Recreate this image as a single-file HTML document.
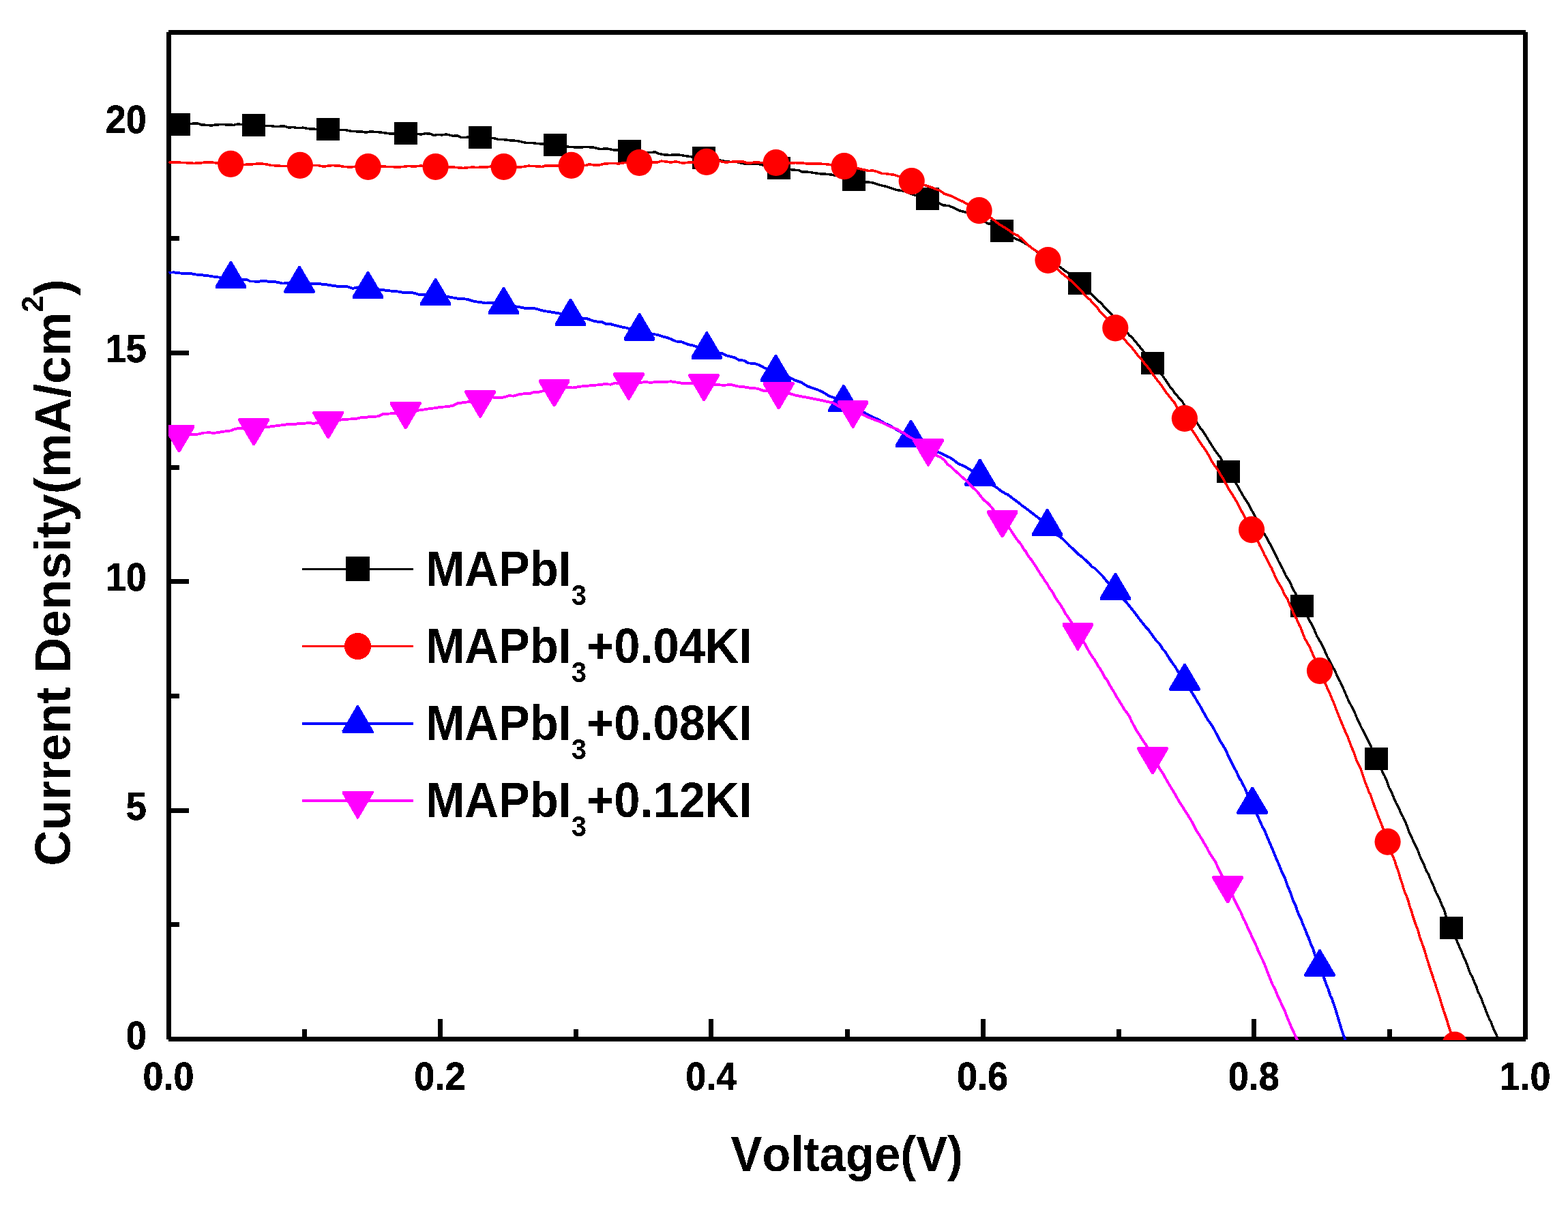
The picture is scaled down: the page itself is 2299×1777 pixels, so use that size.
<!DOCTYPE html>
<html lang="en"><head><meta charset="utf-8"><title>J-V curves: MAPbI3 with KI additive</title>
<style>
html,body{margin:0;padding:0;background:#fff;}
body{width:2299px;height:1777px;}
svg{display:block;}
text{font-family:"Liberation Sans",sans-serif;font-weight:bold;fill:#000;font-kerning:none;}
.tick{font-size:56.8px;stroke:#000;stroke-width:0.7px;stroke-linejoin:round;}
.title{font-size:72px;}
.ytitle{font-size:74.5px;}
.leg{font-size:72px;}
</style></head><body>
<svg width="2299" height="1777" viewBox="0 0 2299 1777">
<rect x="0" y="0" width="2299" height="1777" fill="#fff"/>
<defs><clipPath id="c"><rect x="247" y="46" width="1991" height="1479"/></clipPath>
<filter id="bin" x="-5%" y="-25%" width="110%" height="150%" color-interpolation-filters="sRGB"><feComponentTransfer><feFuncA type="discrete" tableValues="0 1"/></feComponentTransfer></filter>
</defs>
<g id="axes" shape-rendering="crispEdges" fill="#000">
<rect x="247" y="44" width="1990" height="7"/>
<rect x="247" y="1520" width="1990" height="7"/>
<rect x="244" y="47" width="7" height="1477"/>
<rect x="2233" y="47" width="7" height="1477"/>
<rect x="443" y="1509" width="7" height="12"/>
<rect x="642" y="1494" width="7" height="27"/>
<rect x="841" y="1509" width="7" height="12"/>
<rect x="1039" y="1494" width="7" height="27"/>
<rect x="1239" y="1509" width="7" height="12"/>
<rect x="1438" y="1494" width="7" height="27"/>
<rect x="1637" y="1509" width="7" height="12"/>
<rect x="1835" y="1494" width="7" height="27"/>
<rect x="2034" y="1509" width="7" height="12"/>
<rect x="250" y="1352" width="13" height="7"/>
<rect x="250" y="1185" width="27" height="7"/>
<rect x="250" y="1017" width="13" height="7"/>
<rect x="250" y="849" width="27" height="7"/>
<rect x="250" y="682" width="13" height="7"/>
<rect x="250" y="514" width="27" height="7"/>
<rect x="250" y="346" width="13" height="7"/>
<rect x="250" y="179" width="27" height="7"/>
</g>
<g id="data" clip-path="url(#c)" fill="none" stroke-linejoin="round" shape-rendering="crispEdges">
<path d="M247.5 181.9L254.8 180.9L264.4 182.0L271.5 181.0L277.2 181.7L284.4 181.1L289.3 180.8L295.3 183.0L303.9 183.4L309.4 184.1L317.2 182.8L325.2 182.7L333.3 182.8L337.9 183.0L342.5 183.4L349.3 181.7L357.1 183.2L365.7 182.2L372.9 183.1L378.9 185.5L387.9 184.7L396.9 184.5L402.9 185.4L407.9 185.4L416.8 184.9L423.8 187.3L428.8 186.4L434.8 187.5L444.8 187.2L451.8 188.7L460.9 189.2L467.0 189.6L477.1 190.0L486.1 190.4L491.1 190.7L496.1 190.7L504.1 190.4L511.2 191.4L516.2 192.6L524.3 192.8L530.4 193.0L536.5 194.1L542.6 193.0L552.8 193.5L561.9 194.5L570.0 195.8L576.0 196.1L582.0 195.4L588.0 194.6L592.9 196.0L599.0 196.4L607.1 195.7L617.2 197.1L624.3 195.7L630.3 196.1L636.3 198.4L642.3 197.4L648.3 197.9L654.3 196.8L664.2 199.3L671.2 198.8L676.2 201.6L682.2 201.3L691.2 201.1L699.2 203.0L705.2 203.0L710.2 203.8L716.2 201.9L724.2 202.7L730.2 204.3L735.2 204.4L741.2 204.9L747.2 205.8L754.2 206.2L761.2 207.0L771.3 209.5L780.3 209.6L788.3 210.5L793.3 211.0L803.2 211.2L808.2 210.5L816.2 211.2L822.2 213.0L832.2 215.1L841.2 215.8L851.2 216.0L860.1 215.4L870.1 216.2L880.0 218.6L890.0 217.8L900.0 219.9L907.9 219.8L915.9 220.2L923.9 222.3L933.9 223.3L943.9 223.5L952.9 223.4L960.9 223.1L965.9 225.2L974.9 227.1L981.9 227.3L988.0 227.2L996.0 227.1L1006.0 228.7L1012.0 229.6L1020.0 230.6L1030.1 232.1L1038.1 231.1L1045.1 233.4L1053.0 234.6L1062.0 236.3L1072.0 237.5L1080.0 237.4L1086.0 239.0L1095.0 240.6L1104.0 240.7L1110.0 239.9L1115.9 241.3L1121.9 243.1L1128.9 243.6L1134.9 244.3L1143.9 247.0L1148.9 247.3L1153.9 248.1L1162.9 249.0L1170.8 249.6L1175.8 252.0L1180.8 251.8L1189.8 252.9L1195.8 253.8L1203.8 255.1L1210.7 255.2L1219.7 256.2L1229.7 258.4L1236.6 259.5L1242.6 262.0L1251.5 263.4L1257.3 264.3L1266.1 266.9L1273.8 267.1L1280.6 268.2L1289.3 271.2L1299.0 273.4L1307.7 276.3L1315.4 278.7L1325.1 280.0L1334.8 283.8L1343.5 286.9L1351.3 288.4L1357.1 290.1L1364.6 291.4L1372.9 295.7L1382.1 300.7L1391.3 301.7L1397.7 304.4L1406.9 308.9L1411.5 310.0L1417.9 311.7L1424.4 315.1L1429.0 317.8L1437.3 321.5L1442.9 323.7L1447.5 327.7L1452.2 328.2L1460.6 333.0L1468.2 338.3L1477.3 342.6L1481.4 345.2L1487.2 349.3L1494.7 352.4L1503.0 356.8L1509.7 361.1L1518.1 367.5L1526.6 373.0L1535.0 379.8L1540.8 382.2L1547.5 386.7L1553.4 390.9L1561.7 397.3L1567.4 400.8L1573.2 407.1L1578.9 411.5L1585.0 416.6L1589.9 422.9L1594.7 425.8L1600.2 431.5L1607.0 438.3L1613.7 443.9L1617.8 448.4L1623.2 454.4L1629.2 460.4L1632.5 464.3L1638.6 471.4L1642.6 474.8L1645.9 479.8L1651.9 487.0L1656.0 491.7L1660.0 495.0L1664.7 500.8L1669.4 506.3L1672.8 510.7L1678.2 517.0L1684.4 524.4L1689.2 531.4L1694.4 537.6L1700.1 545.8L1704.1 550.3L1709.9 558.5L1715.6 567.4L1719.1 571.0L1722.6 576.5L1725.5 579.8L1730.7 585.6L1733.6 588.8L1736.5 594.3L1740.0 598.2L1745.8 605.3L1748.7 609.4L1752.8 616.4L1757.4 623.6L1760.3 628.2L1763.2 631.4L1767.9 638.6L1770.8 643.5L1776.0 651.9L1781.7 660.7L1784.6 664.7L1789.8 671.4L1793.2 678.0L1797.2 683.7L1801.2 690.6L1803.6 694.4L1806.5 698.1L1810.4 705.6L1813.3 710.1L1816.2 715.5L1821.0 724.1L1825.8 732.1L1829.7 737.6L1833.0 743.9L1837.8 752.8L1842.1 761.1L1846.4 771.0L1850.7 778.2L1855.5 785.6L1860.2 794.3L1864.5 801.5L1867.8 808.7L1870.7 814.2L1874.0 821.6L1877.9 828.6L1881.7 835.9L1885.5 844.7L1888.4 848.6L1891.7 854.1L1895.1 862.3L1898.9 869.2L1903.2 877.5L1907.1 884.8L1911.2 892.7L1913.4 897.8L1916.0 902.1L1918.6 907.5L1923.0 915.0L1927.3 923.9L1930.8 932.4L1934.8 939.6L1937.0 942.7L1939.2 947.0L1943.6 957.0L1946.2 963.0L1949.7 969.4L1954.1 978.1L1957.2 983.4L1960.2 990.3L1962.9 995.5L1965.5 1000.5L1969.5 1009.4L1972.1 1015.3L1974.3 1020.6L1977.4 1027.6L1981.8 1035.9L1986.2 1044.5L1990.6 1055.4L1993.7 1061.7L1996.7 1067.9L1999.8 1073.7L2004.2 1082.7L2008.6 1091.2L2012.6 1100.0L2016.1 1107.7L2019.1 1114.6L2022.4 1121.9L2024.4 1125.2L2027.3 1132.6L2029.9 1137.3L2033.6 1145.6L2037.0 1155.5L2040.9 1162.8L2043.4 1169.4L2047.3 1178.1L2050.7 1184.3L2054.2 1192.4L2057.2 1197.9L2060.7 1205.5L2062.8 1210.9L2066.7 1221.7L2070.6 1229.6L2073.1 1234.9L2076.1 1241.1L2079.1 1247.7L2081.2 1253.7L2084.1 1260.4L2087.4 1266.8L2089.9 1273.3L2092.4 1278.5L2094.4 1281.5L2096.5 1287.5L2100.1 1294.8L2102.4 1300.4L2105.9 1309.4L2108.6 1314.2L2111.3 1319.9L2114.3 1327.9L2117.2 1333.5L2119.7 1341.8L2121.8 1347.1L2123.9 1350.3L2127.2 1358.0L2129.9 1364.5L2132.4 1370.1L2135.9 1379.0L2139.3 1387.1L2142.7 1394.7L2145.6 1401.8L2148.9 1409.1L2152.1 1417.2L2155.3 1426.3L2159.3 1433.8L2161.9 1440.5L2164.5 1445.9L2167.0 1453.9L2169.4 1458.2L2172.2 1464.6L2174.8 1472.0L2177.4 1478.4L2180.9 1487.5L2183.9 1494.6L2186.1 1498.4L2189.5 1507.7L2191.4 1511.6L2194.3 1517.8L2199.9 1531.6L2200.3 1532.9L2199.0 1530.0" stroke="#000" stroke-width="3.5"/>
<rect x="245.0" y="165.5" width="34" height="33" fill="#000"/>
<rect x="354.9" y="167.0" width="34" height="33" fill="#000"/>
<rect x="464.2" y="173.0" width="34" height="33" fill="#000"/>
<rect x="577.9" y="178.9" width="34" height="33" fill="#000"/>
<rect x="687.2" y="185.3" width="34" height="33" fill="#000"/>
<rect x="797.2" y="196.3" width="34" height="33" fill="#000"/>
<rect x="905.9" y="205.0" width="34" height="33" fill="#000"/>
<rect x="1015.1" y="215.3" width="34" height="33" fill="#000"/>
<rect x="1124.9" y="229.7" width="34" height="33" fill="#000"/>
<rect x="1234.5" y="246.6" width="34" height="33" fill="#000"/>
<rect x="1343.0" y="274.8" width="34" height="33" fill="#000"/>
<rect x="1452.1" y="321.6" width="34" height="33" fill="#000"/>
<rect x="1565.9" y="398.5" width="34" height="33" fill="#000"/>
<rect x="1672.9" y="515.8" width="34" height="33" fill="#000"/>
<rect x="1784.2" y="674.5" width="34" height="33" fill="#000"/>
<rect x="1892.0" y="872.0" width="34" height="33" fill="#000"/>
<rect x="2001.3" y="1096.4" width="34" height="33" fill="#000"/>
<rect x="2110.9" y="1343.5" width="34" height="33" fill="#000"/>
<path d="M247.5 237.7L255.0 238.3L259.7 238.1L269.6 238.5L277.8 239.0L284.3 239.4L294.5 238.9L301.4 237.8L309.7 237.9L319.1 239.2L328.3 239.6L336.0 239.9L345.9 240.8L353.7 242.1L363.6 240.8L371.7 240.7L377.8 240.0L388.0 240.4L398.2 242.5L406.4 243.0L414.6 243.5L420.7 243.5L425.8 242.9L435.9 241.6L443.0 242.2L451.1 243.1L458.2 242.6L466.3 242.6L474.4 244.1L481.4 243.2L486.5 242.6L496.5 242.9L503.6 244.3L513.6 245.1L520.6 244.3L525.7 244.7L533.7 244.3L540.7 244.1L546.8 245.1L551.8 243.4L559.9 243.9L566.0 244.3L573.0 244.3L582.1 245.3L591.2 244.4L598.2 243.5L608.3 244.0L617.4 243.1L625.4 244.2L632.5 244.7L640.6 243.1L650.6 245.0L658.5 244.8L665.5 245.2L672.6 245.9L678.6 246.4L685.6 245.8L690.6 245.2L700.6 245.4L706.6 244.9L713.6 245.1L719.6 244.1L729.6 245.5L738.6 245.6L747.6 245.0L752.7 244.8L759.7 245.3L768.7 244.3L774.7 243.2L780.7 243.5L788.7 243.9L794.7 244.5L799.7 243.0L806.7 242.9L813.7 242.8L818.7 242.9L826.7 242.6L836.7 242.7L844.7 241.8L849.8 241.0L858.8 242.6L863.9 240.9L869.9 241.8L879.0 241.8L886.1 240.2L895.2 239.4L901.2 239.5L907.3 240.0L916.3 238.5L925.4 239.1L932.4 238.7L942.4 238.4L950.5 237.4L956.5 237.9L963.5 238.1L969.5 236.1L975.5 236.9L983.5 238.0L991.5 236.9L1000.5 239.1L1009.6 238.2L1018.6 237.8L1023.7 237.2L1029.8 235.5L1039.9 236.6L1046.9 236.1L1053.9 236.0L1063.9 238.1L1074.0 237.2L1083.2 237.0L1089.2 236.8L1095.3 239.0L1101.4 238.8L1106.5 238.0L1113.6 238.3L1119.6 238.6L1126.7 239.2L1133.7 239.0L1141.7 238.2L1151.8 239.5L1156.8 239.0L1166.9 238.7L1171.9 239.1L1177.9 239.2L1182.9 240.0L1192.9 240.3L1199.9 240.1L1208.8 240.5L1215.8 241.2L1222.8 242.8L1229.7 242.5L1237.7 244.8L1246.6 245.7L1255.4 246.2L1260.3 247.6L1265.2 248.6L1274.0 250.5L1279.9 250.0L1287.8 252.3L1292.7 254.4L1298.5 254.6L1304.4 255.5L1311.2 256.3L1318.1 258.8L1324.9 261.4L1334.7 263.4L1340.4 265.8L1349.6 269.7L1357.0 271.9L1365.3 274.5L1370.8 276.9L1378.2 279.5L1384.6 284.1L1393.9 287.1L1400.3 290.0L1405.0 292.4L1412.4 295.9L1417.9 299.0L1425.4 302.5L1432.8 307.0L1438.8 311.0L1446.1 315.1L1451.8 318.6L1459.9 324.8L1466.4 329.7L1471.3 332.5L1477.1 336.1L1482.0 339.8L1486.9 343.0L1492.6 345.5L1499.1 351.3L1504.0 355.7L1508.1 359.9L1512.2 363.1L1517.9 367.2L1525.2 371.9L1530.9 376.1L1537.2 382.1L1542.2 387.9L1545.7 389.5L1550.0 394.2L1557.1 400.9L1564.1 406.3L1570.4 411.8L1577.4 418.8L1584.5 425.2L1588.0 429.5L1593.6 435.7L1597.8 439.1L1603.4 445.4L1607.6 449.5L1613.3 457.3L1617.5 461.5L1623.9 467.6L1627.4 471.9L1631.0 475.8L1637.1 484.2L1642.5 489.3L1648.0 496.8L1652.2 501.9L1655.9 506.0L1659.5 509.7L1665.6 517.3L1669.3 522.8L1672.3 525.1L1678.5 533.5L1684.6 540.3L1688.9 546.9L1692.6 551.7L1698.1 559.1L1702.4 564.4L1705.4 568.8L1709.7 575.4L1712.7 578.8L1718.2 586.0L1722.5 591.1L1726.1 597.8L1729.7 603.5L1733.3 608.8L1738.5 615.3L1742.1 622.1L1744.8 625.2L1750.0 633.9L1753.1 638.3L1756.2 643.3L1761.9 652.3L1764.5 655.6L1768.6 661.8L1772.2 667.6L1776.9 676.5L1781.5 683.3L1786.1 689.7L1790.2 697.1L1792.8 701.0L1795.9 706.5L1798.4 711.2L1802.5 718.5L1805.6 722.8L1808.7 728.4L1811.3 732.3L1815.4 739.7L1819.0 746.7L1822.1 752.6L1826.8 761.0L1830.4 768.1L1835.1 777.1L1838.6 783.5L1842.9 791.0L1847.2 799.9L1849.8 804.4L1854.2 814.0L1858.5 821.6L1861.6 828.1L1864.2 832.7L1868.6 842.7L1871.2 848.3L1875.6 856.6L1879.5 862.7L1883.4 871.9L1887.4 877.8L1891.3 887.3L1893.9 892.8L1897.0 899.8L1900.9 907.2L1904.9 916.3L1907.1 920.6L1910.1 928.4L1913.6 937.1L1916.7 942.3L1920.2 948.3L1923.7 956.6L1927.2 964.6L1930.6 973.7L1933.3 980.6L1937.2 988.3L1940.6 995.5L1942.4 1000.0L1945.8 1008.2L1949.1 1014.9L1951.0 1019.9L1953.5 1025.9L1957.3 1034.5L1959.1 1040.1L1961.3 1045.5L1964.3 1053.1L1966.2 1057.5L1969.5 1065.4L1973.2 1074.3L1975.4 1078.7L1978.8 1087.8L1981.7 1095.5L1985.4 1104.0L1988.0 1112.4L1991.7 1120.8L1995.5 1128.4L1998.8 1138.3L2001.7 1147.0L2004.7 1154.3L2006.9 1160.8L2009.1 1164.5L2012.1 1173.4L2014.3 1179.3L2016.9 1186.8L2019.1 1192.0L2021.3 1198.5L2024.3 1205.3L2027.6 1213.9L2030.5 1223.2L2033.1 1230.8L2036.2 1238.5L2038.8 1245.8L2041.4 1253.6L2043.5 1258.4L2045.2 1262.5L2046.9 1268.5L2049.3 1275.1L2051.4 1281.4L2053.2 1287.9L2056.4 1297.2L2058.6 1305.0L2061.1 1311.4L2063.3 1316.3L2065.5 1323.1L2067.3 1330.2L2069.5 1335.8L2071.7 1343.6L2074.7 1352.7L2076.9 1358.4L2079.1 1363.9L2081.6 1373.8L2083.4 1378.6L2085.9 1385.4L2088.8 1393.7L2092.0 1404.9L2094.4 1412.3L2095.8 1417.0L2097.8 1423.1L2100.2 1429.9L2102.5 1437.6L2104.5 1442.4L2106.4 1449.2L2108.6 1455.6L2111.3 1464.0L2114.3 1474.3L2116.5 1481.2L2118.2 1486.1L2121.1 1494.6L2123.3 1502.2L2125.7 1509.4L2127.9 1516.5L2129.5 1521.1L2132.0 1528.7L2133.0 1532.2" stroke="#f00" stroke-width="3.6"/>
<ellipse cx="338.2" cy="240.3" rx="19.1" ry="19.6" fill="#f00" shape-rendering="geometricPrecision"/>
<ellipse cx="439.9" cy="242.4" rx="19.1" ry="19.6" fill="#f00" shape-rendering="geometricPrecision"/>
<ellipse cx="539.7" cy="244.5" rx="19.1" ry="19.6" fill="#f00" shape-rendering="geometricPrecision"/>
<ellipse cx="638.6" cy="244.5" rx="19.1" ry="19.6" fill="#f00" shape-rendering="geometricPrecision"/>
<ellipse cx="738.6" cy="244.5" rx="19.1" ry="19.6" fill="#f00" shape-rendering="geometricPrecision"/>
<ellipse cx="837.7" cy="242.4" rx="19.1" ry="19.6" fill="#f00" shape-rendering="geometricPrecision"/>
<ellipse cx="937.4" cy="238.5" rx="19.1" ry="19.6" fill="#f00" shape-rendering="geometricPrecision"/>
<ellipse cx="1035.9" cy="237.3" rx="19.1" ry="19.6" fill="#f00" shape-rendering="geometricPrecision"/>
<ellipse cx="1137.7" cy="238.5" rx="19.1" ry="19.6" fill="#f00" shape-rendering="geometricPrecision"/>
<ellipse cx="1237.7" cy="243.7" rx="19.1" ry="19.6" fill="#f00" shape-rendering="geometricPrecision"/>
<ellipse cx="1336.7" cy="265.6" rx="19.1" ry="19.6" fill="#f00" shape-rendering="geometricPrecision"/>
<ellipse cx="1435.6" cy="308.7" rx="19.1" ry="19.6" fill="#f00" shape-rendering="geometricPrecision"/>
<ellipse cx="1536.5" cy="381.5" rx="19.1" ry="19.6" fill="#f00" shape-rendering="geometricPrecision"/>
<ellipse cx="1635.3" cy="480.8" rx="19.1" ry="19.6" fill="#f00" shape-rendering="geometricPrecision"/>
<ellipse cx="1736.9" cy="613.5" rx="19.1" ry="19.6" fill="#f00" shape-rendering="geometricPrecision"/>
<ellipse cx="1835.1" cy="776.7" rx="19.1" ry="19.6" fill="#f00" shape-rendering="geometricPrecision"/>
<ellipse cx="1935.0" cy="983.5" rx="19.1" ry="19.6" fill="#f00" shape-rendering="geometricPrecision"/>
<ellipse cx="2034.6" cy="1234.2" rx="19.1" ry="19.6" fill="#f00" shape-rendering="geometricPrecision"/>
<ellipse cx="2133.0" cy="1532.2" rx="19.1" ry="19.6" fill="#f00" shape-rendering="geometricPrecision"/>
<path d="M247.5 399.7L254.9 399.4L263.9 400.5L270.4 400.8L280.7 401.3L286.2 402.4L294.1 403.1L304.5 404.2L315.0 405.9L323.1 406.8L330.9 408.5L336.4 407.6L343.3 407.9L353.1 410.3L362.0 410.1L367.0 412.5L373.0 412.5L379.0 413.1L384.1 411.6L390.2 412.2L395.3 413.2L402.4 413.0L408.6 414.1L413.7 415.5L422.8 415.3L430.9 415.6L436.0 415.8L442.0 416.5L448.1 416.7L454.1 416.3L461.1 416.3L468.2 416.0L474.2 417.2L479.3 417.4L488.3 418.9L493.4 419.6L501.4 420.1L508.4 420.1L517.5 422.9L523.5 421.4L528.5 422.3L533.5 421.9L540.5 422.4L547.6 423.2L557.6 424.8L567.6 425.9L574.6 426.8L583.6 427.5L589.6 428.6L598.6 428.9L606.6 429.5L615.6 432.4L622.6 432.0L631.6 434.4L640.6 433.7L648.6 433.2L656.6 435.1L665.6 436.7L671.6 437.9L679.6 438.2L685.6 438.9L695.6 442.1L704.6 443.1L712.6 444.5L717.6 444.0L727.6 443.6L736.5 446.7L741.5 447.3L750.4 448.5L759.4 449.8L766.3 451.3L775.1 452.4L785.0 452.4L793.8 455.0L798.7 456.1L808.6 457.6L813.6 458.4L820.5 459.6L827.5 462.2L833.5 463.5L838.4 464.3L843.3 464.5L852.1 466.6L859.9 466.9L865.8 469.0L870.7 470.7L877.6 472.1L883.5 472.4L888.5 475.1L895.4 475.2L904.3 477.6L910.2 479.1L920.0 481.0L926.9 483.9L934.7 485.9L944.4 486.4L949.3 488.9L955.1 489.9L963.8 490.7L970.6 493.2L978.3 495.0L984.1 497.2L990.8 500.4L999.5 501.4L1009.1 505.2L1016.8 506.7L1026.5 510.4L1035.3 511.3L1040.1 513.2L1048.6 516.0L1053.3 517.7L1059.1 518.4L1064.8 521.1L1071.5 522.9L1076.3 523.9L1083.9 528.1L1091.6 528.7L1096.4 532.4L1106.0 532.8L1113.6 535.5L1122.2 540.1L1131.7 542.5L1137.4 545.2L1144.8 547.7L1151.3 550.6L1160.6 554.7L1166.1 557.7L1174.4 560.4L1183.6 566.1L1192.8 569.5L1199.3 571.6L1207.5 575.6L1215.8 580.6L1225.0 584.0L1229.6 586.4L1235.1 588.2L1243.1 592.3L1250.3 595.0L1256.5 597.8L1263.6 602.0L1268.0 605.4L1276.0 609.6L1283.9 613.5L1288.4 615.3L1297.2 620.7L1303.4 623.2L1308.8 626.5L1314.1 629.7L1321.2 633.7L1329.3 637.7L1338.2 642.2L1342.5 644.3L1347.7 647.9L1356.4 652.5L1361.7 654.9L1369.5 658.9L1374.8 662.6L1380.9 665.2L1388.0 668.9L1392.3 670.6L1397.6 674.1L1405.5 680.1L1411.6 682.6L1416.9 685.3L1422.1 688.4L1429.0 693.4L1436.8 699.4L1440.9 701.0L1446.5 704.3L1453.8 710.2L1461.0 714.6L1466.6 719.0L1473.8 723.6L1477.8 725.3L1485.8 731.5L1493.0 736.7L1499.4 742.0L1505.8 746.4L1513.0 752.0L1521.0 758.1L1528.2 764.0L1533.9 770.0L1541.3 775.7L1548.6 783.8L1555.1 787.6L1560.9 792.8L1568.2 800.5L1573.3 804.7L1580.5 812.1L1584.9 815.3L1590.7 820.5L1597.3 826.4L1601.0 831.1L1605.3 833.1L1610.5 838.3L1616.3 844.2L1621.4 850.7L1624.4 853.8L1630.3 860.6L1633.9 864.2L1639.6 872.0L1644.5 876.7L1650.5 881.9L1655.4 887.9L1659.7 893.1L1663.9 898.5L1670.0 906.8L1673.7 911.4L1677.4 916.0L1680.4 920.2L1683.5 922.9L1688.4 929.7L1694.5 938.3L1700.6 944.7L1704.9 951.9L1707.9 954.6L1713.4 963.8L1718.3 971.2L1723.1 977.6L1728.6 987.0L1734.0 993.5L1737.5 998.3L1740.4 1004.2L1743.8 1008.9L1746.7 1014.1L1751.1 1020.9L1755.9 1029.1L1761.3 1037.9L1763.7 1043.0L1766.6 1047.7L1770.4 1054.6L1775.2 1061.3L1780.0 1068.9L1783.9 1076.6L1788.7 1086.0L1793.0 1092.5L1797.3 1099.9L1800.7 1107.7L1805.5 1117.8L1809.8 1125.8L1813.2 1132.2L1817.5 1141.7L1819.9 1144.8L1822.3 1150.2L1825.2 1155.2L1829.5 1165.6L1833.8 1174.3L1837.4 1182.2L1840.5 1188.1L1844.8 1198.3L1848.9 1207.6L1851.3 1212.8L1853.8 1216.8L1858.0 1227.2L1862.2 1236.8L1866.0 1245.8L1869.3 1254.1L1872.3 1261.2L1875.3 1268.0L1878.6 1276.3L1881.2 1282.1L1884.1 1288.0L1887.8 1299.0L1889.5 1302.7L1893.2 1311.8L1896.0 1320.5L1899.6 1327.6L1901.6 1334.2L1904.3 1340.9L1907.8 1348.2L1911.2 1357.3L1913.8 1362.9L1917.0 1371.6L1918.7 1375.2L1921.8 1383.9L1925.4 1391.7L1928.5 1402.0L1930.9 1406.7L1933.9 1414.5L1935.6 1419.6L1937.4 1423.4L1939.1 1427.7L1942.4 1437.0L1944.9 1444.0L1947.3 1449.7L1950.8 1460.6L1952.8 1464.0L1954.3 1468.8L1956.1 1473.7L1957.8 1478.9L1960.6 1488.2L1963.8 1498.6L1966.1 1506.6L1969.0 1515.9L1970.7 1519.8L1974.0 1529.0L1975.6 1532.8L1974.5 1531.0" stroke="#00f" stroke-width="3.9"/>
<path d="M337.2 383.1L339.8 383.1L361.3 419.5L361.3 422.1L360.3 423.3L316.7 423.3L315.7 422.1L315.7 419.5Z" fill="#00f"/>
<path d="M437.7 390.0L440.3 390.0L461.8 426.4L461.8 429.0L460.8 430.2L417.2 430.2L416.2 429.0L416.2 426.4Z" fill="#00f"/>
<path d="M538.2 398.0L540.8 398.0L562.3 434.4L562.3 437.0L561.3 438.2L517.7 438.2L516.7 437.0L516.7 434.4Z" fill="#00f"/>
<path d="M637.3 408.2L639.9 408.2L661.4 444.6L661.4 447.2L660.4 448.4L616.8 448.4L615.8 447.2L615.8 444.6Z" fill="#00f"/>
<path d="M737.2 421.0L739.8 421.0L761.3 457.4L761.3 460.0L760.3 461.2L716.7 461.2L715.7 460.0L715.7 457.4Z" fill="#00f"/>
<path d="M835.2 437.9L837.8 437.9L859.3 474.3L859.3 476.9L858.3 478.1L814.7 478.1L813.7 476.9L813.7 474.3Z" fill="#00f"/>
<path d="M936.3 459.3L938.9 459.3L960.4 495.7L960.4 498.3L959.4 499.5L915.8 499.5L914.8 498.3L914.8 495.7Z" fill="#00f"/>
<path d="M1035.0 486.4L1037.6 486.4L1059.1 522.8L1059.1 525.4L1058.1 526.6L1014.5 526.6L1013.5 525.4L1013.5 522.8Z" fill="#00f"/>
<path d="M1136.1 520.0L1138.7 520.0L1160.2 556.4L1160.2 559.0L1159.2 560.2L1115.6 560.2L1114.6 559.0L1114.6 556.4Z" fill="#00f"/>
<path d="M1235.6 564.1L1238.2 564.1L1259.7 600.5L1259.7 603.1L1258.7 604.3L1215.1 604.3L1214.1 603.1L1214.1 600.5Z" fill="#00f"/>
<path d="M1334.3 615.9L1336.9 615.9L1358.4 652.3L1358.4 654.9L1357.4 656.1L1313.8 656.1L1312.8 654.9L1312.8 652.3Z" fill="#00f"/>
<path d="M1435.5 672.8L1438.1 672.8L1459.6 709.2L1459.6 711.8L1458.6 713.0L1415.0 713.0L1414.0 711.8L1414.0 709.2Z" fill="#00f"/>
<path d="M1534.2 746.2L1536.8 746.2L1558.3 782.6L1558.3 785.2L1557.3 786.4L1513.7 786.4L1512.7 785.2L1512.7 782.6Z" fill="#00f"/>
<path d="M1634.1 840.0L1636.7 840.0L1658.2 876.4L1658.2 879.0L1657.2 880.2L1613.6 880.2L1612.6 879.0L1612.6 876.4Z" fill="#00f"/>
<path d="M1735.7 972.9L1738.3 972.9L1759.8 1009.3L1759.8 1011.9L1758.8 1013.1L1715.2 1013.1L1714.2 1011.9L1714.2 1009.3Z" fill="#00f"/>
<path d="M1834.9 1153.6L1837.5 1153.6L1859.0 1190.0L1859.0 1192.6L1858.0 1193.8L1814.4 1193.8L1813.4 1192.6L1813.4 1190.0Z" fill="#00f"/>
<path d="M1933.7 1392.1L1936.3 1392.1L1957.8 1428.5L1957.8 1431.1L1956.8 1432.3L1913.2 1432.3L1912.2 1431.1L1912.2 1428.5Z" fill="#00f"/>
<path d="M247.5 636.5L255.7 637.3L265.0 637.9L270.5 637.3L276.1 637.0L280.4 637.0L290.8 636.5L299.0 634.5L307.6 634.4L314.3 634.8L322.2 633.7L327.9 632.7L338.3 631.4L344.0 629.1L348.5 628.3L355.2 627.6L360.6 628.5L367.0 628.2L375.1 627.7L384.1 626.6L393.1 625.9L402.0 624.7L411.0 623.6L418.9 622.5L424.9 622.1L431.9 622.4L438.9 620.6L447.9 620.6L453.9 620.0L459.9 620.9L468.0 619.4L476.1 619.0L482.2 617.7L487.1 616.1L495.0 617.0L499.9 615.6L507.9 614.7L512.9 614.5L521.9 614.1L529.9 612.1L535.9 612.4L540.9 610.9L549.0 610.9L555.0 610.2L561.0 607.3L571.0 606.5L578.9 606.0L588.8 603.7L595.7 602.7L601.8 602.2L609.8 602.1L619.9 600.8L629.8 599.1L637.8 598.3L645.7 596.8L655.7 596.3L664.6 594.6L670.5 591.3L676.4 590.6L685.3 589.4L691.2 588.7L698.2 589.0L704.1 588.8L710.1 585.9L716.1 584.5L722.1 582.5L727.0 582.9L737.0 582.8L745.9 580.3L752.9 580.6L761.8 578.1L768.8 577.2L777.7 576.9L782.7 574.9L788.7 575.0L793.7 573.7L798.6 572.9L805.6 570.7L811.6 570.6L816.6 571.3L824.6 569.2L833.6 567.9L839.6 568.5L847.6 567.2L856.6 565.9L861.6 565.7L869.7 564.8L878.7 564.3L885.7 563.2L895.7 563.6L901.8 561.5L907.8 561.9L914.9 562.0L923.9 561.0L929.9 560.4L936.9 561.2L945.9 560.1L954.9 560.9L961.9 559.9L969.0 560.4L975.0 559.9L984.0 559.3L990.0 560.4L995.0 560.9L1000.1 561.9L1006.1 562.4L1011.1 561.6L1020.1 561.8L1028.1 562.8L1036.1 562.4L1046.1 564.5L1053.1 564.3L1061.1 564.7L1067.0 564.4L1074.0 564.4L1082.0 566.5L1091.0 567.3L1097.9 568.5L1104.9 569.1L1110.9 569.8L1118.8 572.6L1125.8 572.9L1130.8 573.1L1139.7 573.0L1147.5 574.8L1157.3 576.9L1167.0 579.7L1174.8 581.2L1179.6 582.1L1188.3 583.7L1197.1 585.5L1205.8 587.2L1212.6 588.8L1221.3 590.6L1229.1 595.2L1236.9 599.0L1243.8 599.2L1248.6 599.6L1254.2 602.6L1259.5 605.1L1268.5 609.5L1275.7 612.9L1283.8 616.1L1288.3 617.5L1296.4 621.0L1302.7 624.4L1308.1 626.6L1315.3 629.3L1320.7 632.9L1325.2 634.7L1331.5 639.6L1338.7 643.4L1345.8 647.9L1353.0 651.3L1358.3 654.3L1365.4 660.4L1373.4 668.1L1379.2 670.4L1385.0 674.9L1389.3 680.8L1394.4 684.4L1398.7 688.7L1405.9 695.0L1411.7 700.4L1418.2 705.9L1424.6 713.3L1431.9 719.7L1437.6 727.1L1442.0 732.6L1448.5 737.9L1453.6 743.5L1457.9 749.0L1461.6 753.3L1468.1 761.1L1472.4 766.5L1477.4 771.6L1481.3 776.1L1487.4 785.8L1491.9 792.1L1496.9 797.9L1501.4 805.8L1504.2 808.8L1507.5 815.0L1510.9 819.1L1516.5 827.0L1522.1 836.0L1525.5 841.6L1529.4 846.8L1532.2 852.1L1535.6 856.1L1538.4 861.9L1542.9 867.7L1547.4 876.3L1550.8 881.0L1555.8 888.3L1558.6 892.9L1562.0 899.5L1565.9 904.8L1570.9 912.6L1574.3 917.5L1577.1 921.0L1582.0 930.2L1585.1 936.1L1590.3 943.5L1595.4 952.8L1598.6 958.4L1601.1 962.2L1603.7 965.7L1607.4 971.5L1609.9 976.4L1612.5 979.7L1617.2 987.5L1619.8 993.3L1622.3 995.5L1627.5 1005.4L1632.7 1013.6L1637.3 1021.8L1642.0 1029.3L1644.5 1033.1L1648.1 1039.8L1651.8 1044.4L1655.9 1050.4L1659.0 1057.3L1663.6 1065.8L1666.7 1071.5L1669.8 1076.0L1672.4 1080.4L1676.5 1086.6L1680.2 1092.0L1684.3 1100.4L1687.9 1104.5L1692.5 1114.0L1697.1 1120.2L1700.1 1126.6L1704.7 1133.3L1709.3 1141.6L1713.9 1149.7L1718.5 1157.3L1722.1 1163.0L1726.2 1170.5L1729.7 1176.7L1733.8 1182.6L1736.9 1188.0L1741.5 1194.9L1744.1 1199.0L1748.7 1206.6L1753.7 1217.2L1758.3 1224.0L1762.9 1231.6L1766.4 1237.7L1769.4 1242.6L1772.5 1249.0L1775.0 1252.9L1778.0 1257.3L1782.4 1264.3L1785.4 1271.1L1789.9 1280.3L1793.8 1287.0L1797.7 1293.5L1802.3 1302.6L1806.3 1310.6L1808.5 1316.2L1811.7 1322.5L1816.3 1331.9L1819.6 1338.0L1822.4 1345.5L1825.3 1350.6L1829.6 1360.6L1833.9 1369.1L1835.8 1374.4L1838.7 1379.9L1842.5 1388.0L1844.9 1394.3L1848.2 1401.5L1850.5 1405.8L1854.3 1414.6L1856.6 1420.4L1858.8 1426.4L1862.4 1435.1L1866.0 1444.0L1869.4 1450.4L1873.2 1459.8L1876.8 1467.2L1880.0 1474.6L1883.7 1481.8L1886.5 1489.6L1889.9 1497.7L1893.0 1505.1L1896.7 1513.0L1900.8 1522.1L1906.1 1534.3L1908.7 1540.7L1907.4 1536.8L1904.0 1531.0" stroke="#f0f" stroke-width="3.9"/>
<path d="M261.3 663.3L263.9 663.3L285.4 626.9L285.4 624.3L284.4 623.1L240.8 623.1L239.8 624.3L239.8 626.9Z" fill="#f0f"/>
<path d="M370.8 653.3L373.4 653.3L394.9 616.9L394.9 614.3L393.9 613.1L350.3 613.1L349.3 614.3L349.3 616.9Z" fill="#f0f"/>
<path d="M479.9 643.0L482.5 643.0L504.0 606.6L504.0 604.0L503.0 602.8L459.4 602.8L458.4 604.0L458.4 606.6Z" fill="#f0f"/>
<path d="M593.4 629.2L596.0 629.2L617.5 592.8L617.5 590.2L616.5 589.0L572.9 589.0L571.9 590.2L571.9 592.8Z" fill="#f0f"/>
<path d="M702.8 612.5L705.4 612.5L726.9 576.1L726.9 573.5L725.9 572.3L682.3 572.3L681.3 573.5L681.3 576.1Z" fill="#f0f"/>
<path d="M811.3 596.4L813.9 596.4L835.4 560.0L835.4 557.4L834.4 556.2L790.8 556.2L789.8 557.4L789.8 560.0Z" fill="#f0f"/>
<path d="M920.6 586.6L923.2 586.6L944.7 550.2L944.7 547.6L943.7 546.4L900.1 546.4L899.1 547.6L899.1 550.2Z" fill="#f0f"/>
<path d="M1030.8 588.1L1033.4 588.1L1054.9 551.7L1054.9 549.1L1053.9 547.9L1010.3 547.9L1009.3 549.1L1009.3 551.7Z" fill="#f0f"/>
<path d="M1140.4 600.2L1143.0 600.2L1164.5 563.8L1164.5 561.2L1163.5 560.0L1119.9 560.0L1118.9 561.2L1118.9 563.8Z" fill="#f0f"/>
<path d="M1249.3 627.6L1251.9 627.6L1273.4 591.2L1273.4 588.6L1272.4 587.4L1228.8 587.4L1227.8 588.6L1227.8 591.2Z" fill="#f0f"/>
<path d="M1359.7 683.5L1362.3 683.5L1383.8 647.1L1383.8 644.5L1382.8 643.3L1339.2 643.3L1338.2 644.5L1338.2 647.1Z" fill="#f0f"/>
<path d="M1468.3 788.4L1470.9 788.4L1492.4 752.0L1492.4 749.4L1491.4 748.2L1447.8 748.2L1446.8 749.4L1446.8 752.0Z" fill="#f0f"/>
<path d="M1579.1 953.5L1581.7 953.5L1603.2 917.1L1603.2 914.5L1602.2 913.3L1558.6 913.3L1557.6 914.5L1557.6 917.1Z" fill="#f0f"/>
<path d="M1688.7 1135.3L1691.3 1135.3L1712.8 1098.9L1712.8 1096.3L1711.8 1095.1L1668.2 1095.1L1667.2 1096.3L1667.2 1098.9Z" fill="#f0f"/>
<path d="M1798.8 1324.4L1801.4 1324.4L1822.9 1288.0L1822.9 1285.4L1821.9 1284.2L1778.3 1284.2L1777.3 1285.4L1777.3 1288.0Z" fill="#f0f"/>
</g>
<g id="labels">
<g id="xticklabels">
<text class="tick" text-anchor="middle" filter="url(#bin)" transform="translate(247.1 1598.4) scale(0.951 1)">0.0</text>
<text class="tick" text-anchor="middle" filter="url(#bin)" transform="translate(644.9 1598.4) scale(0.951 1)">0.2</text>
<text class="tick" text-anchor="middle" filter="url(#bin)" transform="translate(1042.7 1598.4) scale(0.951 1)">0.4</text>
<text class="tick" text-anchor="middle" filter="url(#bin)" transform="translate(1440.5 1598.4) scale(0.951 1)">0.6</text>
<text class="tick" text-anchor="middle" filter="url(#bin)" transform="translate(1838.3 1598.4) scale(0.951 1)">0.8</text>
<text class="tick" text-anchor="middle" filter="url(#bin)" transform="translate(2236.1 1598.4) scale(0.951 1)">1.0</text>
</g>
<g id="yticklabels">
<text class="tick" text-anchor="end" filter="url(#bin)" transform="translate(214.9 195.4) scale(0.951 1)">20</text>
<text class="tick" text-anchor="end" filter="url(#bin)" transform="translate(214.9 530.8) scale(0.951 1)">15</text>
<text class="tick" text-anchor="end" filter="url(#bin)" transform="translate(214.9 865.9) scale(0.951 1)">10</text>
<text class="tick" text-anchor="end" filter="url(#bin)" transform="translate(214.9 1202.2) scale(0.951 1)">5</text>
<text class="tick" text-anchor="end" filter="url(#bin)" transform="translate(214.9 1538.4) scale(0.951 1)">0</text>
</g>
<text class="title" text-anchor="start" filter="url(#bin)" transform="translate(1071.4 1717.1) scale(0.957 1)">Voltage(V)</text>
<text class="ytitle" filter="url(#bin)" transform="translate(103 1269.7) rotate(-90) scale(0.976 1)">Current Density(mA/cm<tspan dy="-40" font-size="44.3">2</tspan><tspan dy="40">)</tspan></text>
</g>
<g id="legend">
<rect x="443" y="833" width="163" height="3" fill="#000" shape-rendering="crispEdges"/>
<rect x="507" y="816" width="35" height="36" rx="1.5" fill="#000" shape-rendering="crispEdges"/>
<text class="leg" filter="url(#bin)" transform="translate(624.1 858.9) scale(0.954 1)">MAPbI<tspan dy="27.8" font-size="42">3</tspan></text>
<rect x="443" y="946" width="163" height="3" fill="#f00" shape-rendering="crispEdges"/>
<circle cx="524.5" cy="947.5" r="19.6" fill="#f00" shape-rendering="crispEdges"/>
<text class="leg" filter="url(#bin)" transform="translate(624.1 972.1) scale(0.954 1)">MAPbI<tspan dy="27.8" font-size="42">3</tspan><tspan dy="-27.8">+0.04KI</tspan></text>
<rect x="443" y="1059" width="163" height="4" fill="#00f" shape-rendering="crispEdges"/>
<path d="M523.5 1033.8h2L547.5 1071.5v3.5h-46v-3.5z" fill="#00f" shape-rendering="crispEdges"/>
<text class="leg" filter="url(#bin)" transform="translate(624.1 1085.1) scale(0.954 1)">MAPbI<tspan dy="27.8" font-size="42">3</tspan><tspan dy="-27.8">+0.08KI</tspan></text>
<rect x="443" y="1172" width="163" height="4" fill="#f0f" shape-rendering="crispEdges"/>
<path d="M501.5 1160h46v3L525.5 1200.5h-2L501.5 1163z" fill="#f0f" shape-rendering="crispEdges"/>
<text class="leg" filter="url(#bin)" transform="translate(624.1 1198.05) scale(0.954 1)">MAPbI<tspan dy="27.8" font-size="42">3</tspan><tspan dy="-27.8">+0.12KI</tspan></text>
</g>
</svg>
</body></html>
